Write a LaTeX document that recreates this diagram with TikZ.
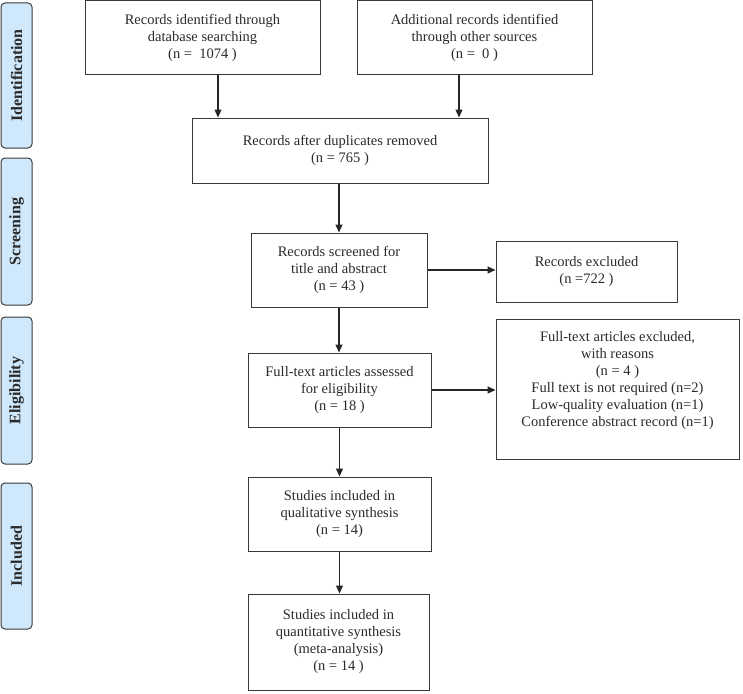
\documentclass[tikz,border=0pt]{standalone}
\usepackage{fontspec}
\setmainfont{Liberation Serif}
\usetikzlibrary{arrows.meta,calc}
\definecolor{lblfill}{HTML}{CFE8FB}
\definecolor{txt}{HTML}{2A2A2A}
\definecolor{edge}{HTML}{3A3A3A}
\tikzset{
  box/.style={draw=edge, line width=1pt, fill=white, align=center, inner sep=2pt,
    text=txt, font=\fontsize{14.5}{17}\selectfont},
  phase/.style={draw=edge, line width=1pt, fill=lblfill, rounded corners=4pt,
    minimum width=31pt, text=txt, font=\fontsize{16}{19}\selectfont\bfseries},
  arr/.style={draw=black!85, line width=1.2pt, -{Triangle[length=8pt,width=7pt]}},
  btext/.style={align=center, text=txt, font=\fontsize{14.5}{17}\selectfont}
}
\begin{document}
\begin{tikzpicture}[x=1pt,y=-1pt]
\useasboundingbox (0,0) rectangle (743,693);
% phase labels
\node[phase, minimum height=145pt] (pid) at (16.5,75.5) {\rotatebox{90}{Identification}};
\node[phase, minimum height=147pt] (psc) at (16.5,231.5) {\rotatebox{90}{Screening}};
\node[phase, minimum height=147pt] (pel) at (16.5,390.5) {\rotatebox{90}{Eligibility}};
\node[phase, minimum height=146pt] (pin) at (16.5,556) {\rotatebox{90}{Included}};
% boxes
\node[box, minimum width=235pt, minimum height=73pt] (b1) at (202.5,37.5)
  {Records identified through\\database searching\\(n =\ \ 1074 )};
\node[box, minimum width=235pt, minimum height=73pt] (b2) at (474.5,37.5)
  {Additional records identified\\through other sources\\(n =\ \ 0 )};
\node[box, minimum width=296pt, minimum height=65pt] (b3) at (340,150.5)
  {Records after duplicates removed\\(n = 765 )};
\node[box, minimum width=176pt, minimum height=74pt] (b4) at (339,270)
  {Records screened for\\title and abstract\\(n = 43 )};
\node[box, minimum width=181pt, minimum height=61pt] (x1) at (586.5,271.5)
  {Records excluded\\(n =722 )};
\node[box, minimum width=183pt, minimum height=74pt] (b5) at (339.5,390)
  {Full-text articles assessed\\for eligibility\\(n = 18 )};
\node[box, minimum width=243pt, minimum height=140pt] (x2) at (617.5,389) {};
\node[btext] (x2t) at (617.5,381)
  {Full-text articles excluded,\\with reasons\\(n = 4 )\\Full text is not required (n=2)\\Low-quality evaluation (n=1)\\Conference abstract record (n=1)};
\node[box, minimum width=183pt, minimum height=74pt] (b6) at (339.5,514)
  {Studies included in\\qualitative synthesis\\(n = 14)};
\node[box, minimum width=181pt, minimum height=96pt] (b7) at (338.5,642)
  {Studies included in\\quantitative synthesis\\(meta-analysis)\\(n = 14 )};
% arrows
\coordinate (c1) at (218,0);
\coordinate (c2) at (459,0);
\draw[arr] (b1.south -| c1) -- (b3.north -| c1);
\draw[arr] (b2.south -| c2) -- (b3.north -| c2);
\draw[arr] (b3.south -| b4.north) -- (b4.north);
\draw[arr] (b4.east) -- (b4.east -| x1.west);
\draw[arr] (b4.south) -- (b4.south |- b5.north);
\draw[arr] (b5.east) -- (b5.east -| x2.west);
\draw[arr] (b5.south) -- (b5.south |- b6.north);
\draw[arr] (b6.south) -- (b6.south |- b7.north);
\end{tikzpicture}
\end{document}
